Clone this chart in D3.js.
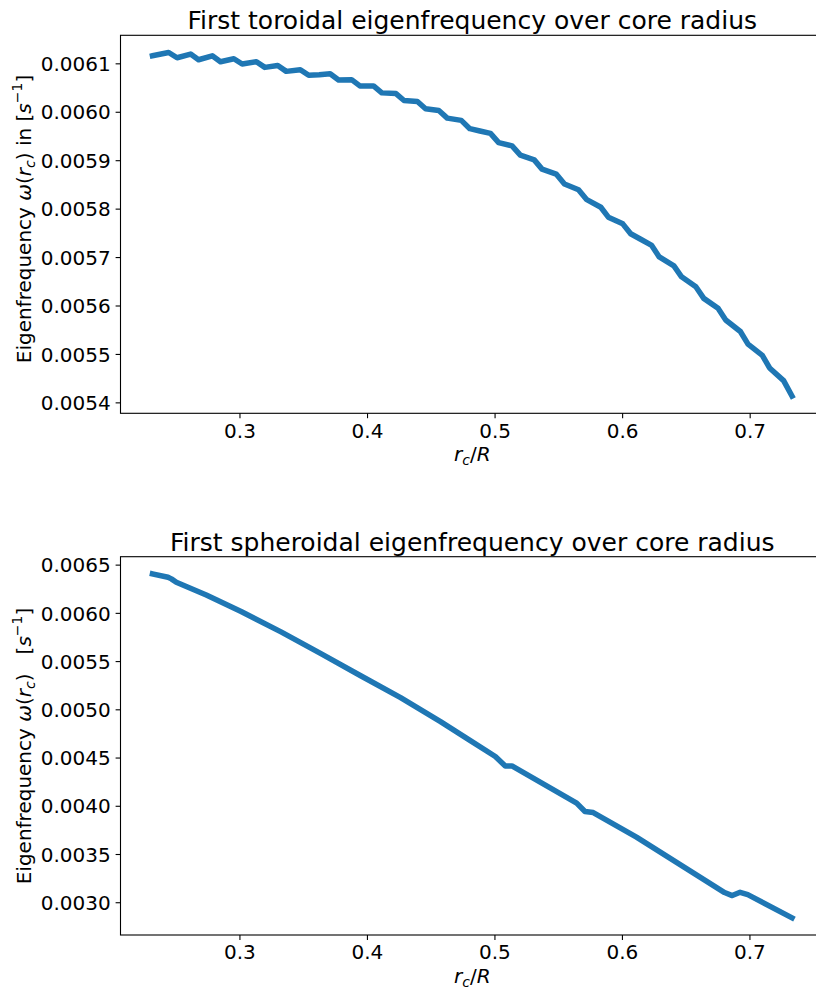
<!DOCTYPE html>
<html>
<head>
<meta charset="utf-8">
<script src="https://cdn.jsdelivr.net/npm/d3@7"></script>
<style>
  html, body { margin: 0; padding: 0; background: #fff; }
  svg { display: block; font-family: "DejaVu Sans", sans-serif; }
</style>
</head>
<body>
<svg id="chart" width="816" height="990"></svg>
<script>
// ---- data ----
const toroidalX = [0.2318,0.2445,0.2511,0.2617,0.2679,0.2787,0.2851,0.2956,0.3021,0.3133,0.3199,0.3300,0.3367,0.3477,0.3543,0.3625,0.3711,0.3777,0.3879,0.3944,0.4051,0.4116,0.4227,0.4290,0.4395,0.4459,0.4563,0.4629,0.4739,0.4806,0.4885,0.4968,0.5032,0.5137,0.5202,0.5311,0.5372,0.5483,0.5548,0.5658,0.5723,0.5833,0.5892,0.6005,0.6067,0.6149,0.6232,0.6291,0.6406,0.6466,0.6578,0.6640,0.6752,0.6812,0.6927,0.6987,0.7099,0.7156,0.7266,0.7332];
const toroidalY = [0.0061156,0.0061224,0.0061115,0.0061191,0.0061074,0.0061156,0.0061033,0.0061094,0.0060986,0.0061033,0.0060916,0.0060957,0.0060834,0.0060869,0.0060752,0.0060766,0.0060786,0.0060657,0.0060663,0.0060534,0.0060534,0.0060390,0.0060376,0.0060232,0.0060212,0.0060062,0.0060027,0.0059869,0.0059822,0.0059651,0.0059602,0.0059555,0.0059364,0.0059294,0.0059103,0.0059007,0.0058816,0.0058713,0.0058508,0.0058391,0.0058185,0.0058029,0.0057824,0.0057686,0.0057481,0.0057362,0.0057241,0.0057003,0.0056818,0.0056592,0.0056387,0.0056147,0.0055941,0.0055701,0.0055463,0.0055202,0.0054970,0.0054710,0.0054449,0.0054129];

const spheroidalX = [0.2318,0.2440,0.2466,0.2505,0.2740,0.3013,0.3326,0.3639,0.3951,0.4264,0.4577,0.4811,0.5007,0.5085,0.5137,0.5645,0.5710,0.5775,0.6114,0.6805,0.6865,0.6927,0.6987,0.7334];
const spheroidalY = [0.0064039,0.0063688,0.0063522,0.0063171,0.0061848,0.0060143,0.0058025,0.0055772,0.0053478,0.0051204,0.0048724,0.0046760,0.0045107,0.0044125,0.0044125,0.0040271,0.0039403,0.0039299,0.0036757,0.0031004,0.0030691,0.0031033,0.0030794,0.0028386];

const xTicks = [0.3, 0.4, 0.5, 0.6, 0.7];
const xTickLabels = ["0.3", "0.4", "0.5", "0.6", "0.7"];
const toroidalYTicks = [0.0054, 0.0055, 0.0056, 0.0057, 0.0058, 0.0059, 0.0060, 0.0061];
const toroidalYTickLabels = ["0.0054", "0.0055", "0.0056", "0.0057", "0.0058", "0.0059", "0.0060", "0.0061"];
const spheroidalYTicks = [0.0030, 0.0035, 0.0040, 0.0045, 0.0050, 0.0055, 0.0060, 0.0065];
const spheroidalYTickLabels = ["0.0030", "0.0035", "0.0040", "0.0045", "0.0050", "0.0055", "0.0060", "0.0065"];

const titles = ["First toroidal eigenfrequency over core radius", "First spheroidal eigenfrequency over core radius"];

// ---- layout ----
const svg = d3.select("#chart");
const FS = 20;          // tick / label font size
const TITLE_FS = 25;
const LEFT = 120.5, RIGHT = 824;
const panels = [
  { top: 35.3, bottom: 413.3, xs: toroidalX, ys: toroidalY, ticks: toroidalYTicks, tickLabels: toroidalYTickLabels, title: titles[0], ylabelMid: " in ", ylabelCy: 219 },
  { top: 556.7, bottom: 935, xs: spheroidalX, ys: spheroidalY, ticks: spheroidalYTicks, tickLabels: spheroidalYTickLabels, title: titles[1], ylabelMid: "\u00a0\u00a0\u00a0", ylabelCy: 746 }
];

function padded(ext) {
  const r = ext[1] - ext[0];
  return [ext[0] - 0.05 * r, ext[1] + 0.05 * r];
}

panels.forEach(p => {
  const g = svg.append("g");
  const x = d3.scaleLinear().domain(padded(d3.extent(p.xs))).range([LEFT, RIGHT]);
  const y = d3.scaleLinear().domain(padded(d3.extent(p.ys))).range([p.bottom, p.top]);

  const pts = p.xs.map((v, i) => [v, p.ys[i]]);

  const cid = "clip" + Math.round(p.top);
  svg.append("clipPath").attr("id", cid).append("rect")
    .attr("x", LEFT).attr("y", p.top).attr("width", RIGHT - LEFT).attr("height", p.bottom - p.top);

  g.append("path")
    .datum(pts)
    .attr("clip-path", `url(#${cid})`)
    .attr("fill", "none")
    .attr("stroke", "#1f77b4")
    .attr("stroke-width", 5.5)
    .attr("stroke-linejoin", "round")
    .attr("stroke-linecap", "square")
    .attr("d", d3.line().x(d => x(d[0])).y(d => y(d[1])));

  const xAxis = d3.axisBottom(x).tickValues(xTicks)
    .tickFormat((d, i) => xTickLabels[i]).tickSizeInner(4.9).tickSizeOuter(0).tickPadding(4.9);
  const gx = g.append("g").attr("transform", `translate(0,${p.bottom})`).call(xAxis);
  gx.select(".domain").remove();
  gx.selectAll(".tick line").attr("stroke", "#000").attr("stroke-width", 1.1);
  gx.selectAll(".tick text").attr("font-size", FS).attr("font-family", "DejaVu Sans").attr("fill", "#000")
    .attr("dy", "0.73em");

  const yAxis = d3.axisLeft(y).tickValues(p.ticks)
    .tickFormat((d, i) => p.tickLabels[i]).tickSizeInner(4.9).tickSizeOuter(0).tickPadding(4.9);
  const gy = g.append("g").attr("transform", `translate(${LEFT},0)`).call(yAxis);
  gy.select(".domain").remove();
  gy.selectAll(".tick line").attr("stroke", "#000").attr("stroke-width", 1.1);
  gy.selectAll(".tick text").attr("font-size", FS).attr("font-family", "DejaVu Sans").attr("fill", "#000")
    .attr("dy", "0.36em");

  g.append("rect")
    .attr("x", LEFT).attr("y", p.top)
    .attr("width", RIGHT - LEFT).attr("height", p.bottom - p.top)
    .attr("fill", "none").attr("stroke", "#000").attr("stroke-width", 1.1);

  g.append("text")
    .attr("x", (LEFT + RIGHT) / 2).attr("y", p.top - 6)
    .attr("text-anchor", "middle")
    .attr("font-size", TITLE_FS).attr("fill", "#000")
    .text(p.title);

  const xl = g.append("text")
    .attr("x", (LEFT + RIGHT) / 2).attr("y", p.bottom + 48)
    .attr("text-anchor", "middle")
    .attr("font-size", FS).attr("fill", "#000");
  xl.append("tspan").attr("font-style", "italic").text("r");
  xl.append("tspan").attr("font-style", "italic").attr("font-size", FS * 0.7).attr("dy", 4).text("c");
  xl.append("tspan").attr("dy", -4).text("/");
  xl.append("tspan").attr("font-style", "italic").text("R");

  const yl = g.append("text")
    .attr("transform", `translate(31,${p.ylabelCy}) rotate(-90)`)
    .attr("text-anchor", "middle")
    .attr("font-size", FS).attr("fill", "#000");
  yl.append("tspan").text("Eigenfrequency ");
  yl.append("tspan").attr("font-style", "italic").text("\u03c9");
  yl.append("tspan").text("(");
  yl.append("tspan").attr("font-style", "italic").text("r");
  yl.append("tspan").attr("font-style", "italic").attr("font-size", FS * 0.7).attr("dy", 4).text("c");
  yl.append("tspan").attr("dy", -4).text(")");
  yl.append("tspan").text(p.ylabelMid);
  yl.append("tspan").text("[");
  yl.append("tspan").attr("font-style", "italic").text("s");
  yl.append("tspan").attr("font-size", FS * 0.7).attr("dy", -9).text("\u22121");
  yl.append("tspan").attr("dy", 9).text("]");
});
</script>
</body>
</html>
